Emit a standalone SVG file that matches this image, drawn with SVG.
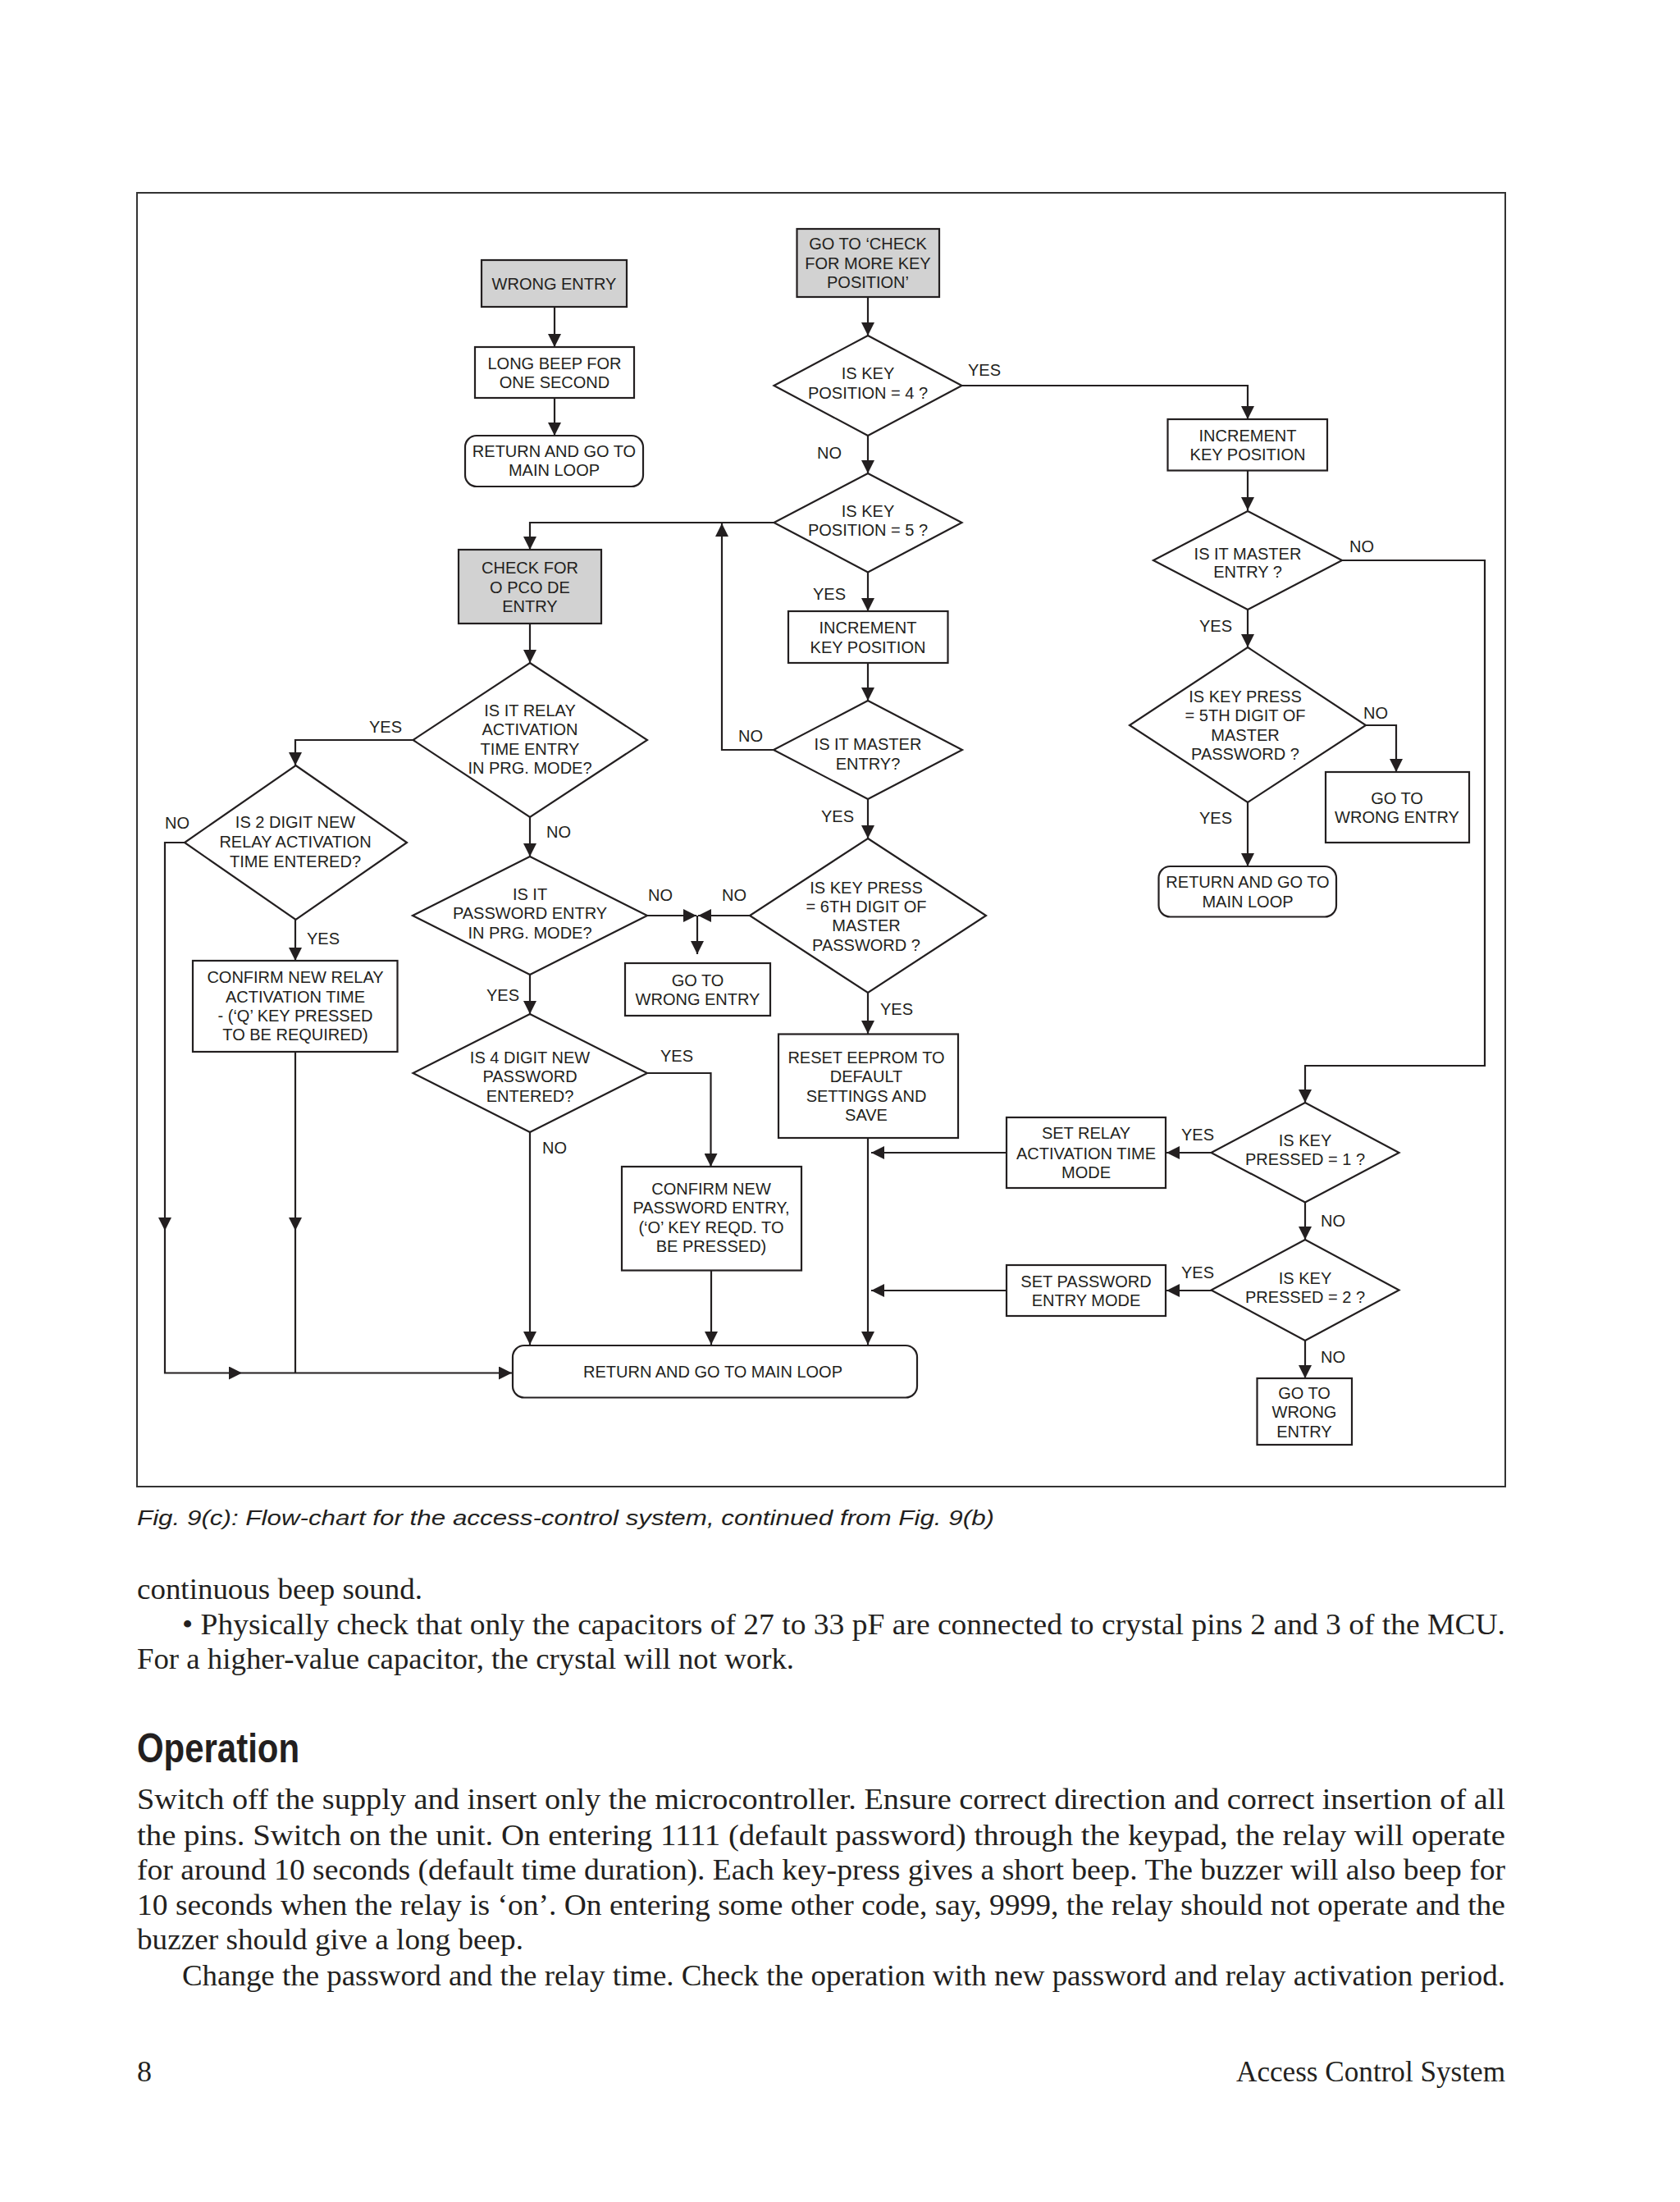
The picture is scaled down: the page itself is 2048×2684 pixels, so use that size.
<svg xmlns="http://www.w3.org/2000/svg" width="2048" height="2684" viewBox="0 0 2048 2684">
<style>
.bx{fill:#fff;stroke:#231f20;stroke-width:2.2}
.gr{fill:#d2d2d2;stroke:#231f20;stroke-width:2.2}
.t{font-family:"Liberation Sans",Arial,sans-serif;font-size:20px;fill:#231f20;text-anchor:middle}
.c{fill:none;stroke:#231f20;stroke-width:2.2}
.a{marker-end:url(#ah)}
.body{font-family:"Liberation Serif","Times New Roman",serif;font-size:36px;fill:#231f20}
</style>
<defs>
<marker id="ah" markerUnits="userSpaceOnUse" viewBox="0 0 16 16" markerWidth="16" markerHeight="16" refX="16" refY="8" orient="auto"><path d="M0,0 L16,8 L0,16 z" fill="#231f20"/></marker>
</defs>
<rect width="2048" height="2684" fill="#fff"/>
<rect x="167" y="235" width="1668" height="1577" fill="none" stroke="#333" stroke-width="2"/>

<g id="connectors">
<path class="c a" d="M676,374 V423"/>
<path class="c a" d="M676,485 V531"/>
<path class="c a" d="M1058,362 V409"/>
<path class="c a" d="M1172.5,470 H1521 V511"/>
<path class="c a" d="M1058,531 V577"/>
<path class="c a" d="M944,637 H646 V670"/>
<path class="c a" d="M1058,697.5 V745"/>
<path class="c a" d="M1058,808 V854"/>
<path class="c a" d="M943,914 H880 V638"/>
<path class="c a" d="M1058,974 V1022"/>
<path class="c a" d="M914,1116 H851"/>
<path class="c a" d="M789,1116 H849"/>
<path class="c a" d="M850,1116 V1163"/>
<path class="c a" d="M1058,1210 V1260"/>
<path class="c a" d="M1058,1387 V1639"/>
<path class="c a" d="M1227,1405 H1062"/>
<path class="c a" d="M1227,1573 H1062"/>
<path class="c a" d="M1477,1405 H1422"/>
<path class="c a" d="M1477,1573 H1422"/>
<path class="c a" d="M1591,1465.5 V1511"/>
<path class="c a" d="M1591,1634 V1680"/>
<path class="c a" d="M1636,683 H1810 V1299 H1591 V1344"/>
<path class="c a" d="M1521,573.5 V622"/>
<path class="c a" d="M1521,743 V789"/>
<path class="c a" d="M1665,884 H1702 V941"/>
<path class="c a" d="M1521,978 V1056"/>
<path class="c a" d="M646,760 V808"/>
<path class="c a" d="M503.5,902 H360 V933"/>
<path class="c a" d="M646,996 V1044"/>
<path class="c a" d="M360,1121 V1171"/>
<path class="c a" d="M225,1027 H201 V1500"/>
<path class="c a" d="M201,1500 V1673.5 H295"/>
<path class="c a" d="M295,1673.5 H624"/>
<path class="c a" d="M360,1282 V1500"/>
<path class="c" d="M360,1500 V1673.5"/>
<path class="c a" d="M646,1188 V1236"/>
<path class="c a" d="M646,1380 V1639"/>
<path class="c a" d="M789,1308 H866.5 V1422"/>
<path class="c a" d="M867,1548.5 V1639"/>
</g>

<g id="labels" class="t">
<text x="1200" y="458">YES</text>
<text x="1011" y="559">NO</text>
<text x="1011" y="731">YES</text>
<text x="915" y="904">NO</text>
<text x="1021" y="1002">YES</text>
<text x="895" y="1098">NO</text>
<text x="805" y="1098">NO</text>
<text x="1093" y="1237">YES</text>
<text x="1460" y="1390">YES</text>
<text x="1460" y="1558">YES</text>
<text x="1625" y="1494.5">NO</text>
<text x="1625" y="1660.5">NO</text>
<text x="1660" y="673">NO</text>
<text x="1482" y="770">YES</text>
<text x="1677" y="876">NO</text>
<text x="1482" y="1004">YES</text>
<text x="470" y="893">YES</text>
<text x="216" y="1010">NO</text>
<text x="394" y="1151">YES</text>
<text x="681" y="1021">NO</text>
<text x="613" y="1220">YES</text>
<text x="825" y="1294">YES</text>
<text x="676" y="1406">NO</text>
</g>

<g id="n_wrong_entry"><rect class="gr" x="587" y="317" width="177" height="57"/><text class="t" x="675.5" y="353">WRONG ENTRY</text></g>
<g id="n_long_beep"><rect class="bx" x="579" y="423" width="194" height="62"/><text class="t"><tspan x="676" y="450">LONG BEEP FOR</tspan><tspan x="676" y="473">ONE SECOND</tspan></text></g>
<g id="n_return_1"><rect class="bx" x="567" y="531" width="217" height="62" rx="14"/><text class="t"><tspan x="675.5" y="557">RETURN AND GO TO</tspan><tspan x="675.5" y="580">MAIN LOOP</tspan></text></g>
<g id="n_check_for"><rect class="gr" x="559" y="670" width="174" height="90"/><text class="t"><tspan x="646" y="699">CHECK FOR</tspan><tspan x="646" y="723">O PCO DE</tspan><tspan x="646" y="746">ENTRY</tspan></text></g>
<g id="n_goto_check"><rect class="gr" x="971.5" y="279" width="173.5" height="83"/><text class="t"><tspan x="1058" y="304">GO TO ‘CHECK</tspan><tspan x="1058" y="328">FOR MORE KEY</tspan><tspan x="1058" y="351">POSITION’</tspan></text></g>
<g id="n_keypos4"><polygon class="bx" points="1058,409 1172.5,470 1058,531 943.5,470"/><text class="t"><tspan x="1058" y="462">IS KEY</tspan><tspan x="1058" y="486">POSITION = 4 ?</tspan></text></g>
<g id="n_keypos5"><polygon class="bx" points="1058,577 1172.5,637 1058,697.5 943.5,637"/><text class="t"><tspan x="1058" y="630">IS KEY</tspan><tspan x="1058" y="653">POSITION = 5 ?</tspan></text></g>
<g id="n_incr_mid"><rect class="bx" x="961" y="745" width="194.5" height="63"/><text class="t"><tspan x="1058" y="772">INCREMENT</tspan><tspan x="1058" y="795.5">KEY POSITION</tspan></text></g>
<g id="n_master_mid"><polygon class="bx" points="1058,854 1173,914 1058,974 943,914"/><text class="t"><tspan x="1058" y="913.5">IS IT MASTER</tspan><tspan x="1058" y="937.5">ENTRY?</tspan></text></g>
<g id="n_6th_digit"><polygon class="bx" points="1058,1022 1202,1116 1058,1210 914,1116"/><text class="t"><tspan x="1056" y="1088.5">IS KEY PRESS</tspan><tspan x="1056" y="1111.5">= 6TH DIGIT OF</tspan><tspan x="1056" y="1135">MASTER</tspan><tspan x="1056" y="1158.5">PASSWORD ?</tspan></text></g>
<g id="n_goto_wrong_mid"><rect class="bx" x="762" y="1174" width="177" height="64"/><text class="t"><tspan x="850.5" y="1202">GO TO</tspan><tspan x="850.5" y="1224.5">WRONG ENTRY</tspan></text></g>
<g id="n_reset_eeprom"><rect class="bx" x="949" y="1260.5" width="219" height="126.5"/><text class="t"><tspan x="1056" y="1295.5">RESET EEPROM TO</tspan><tspan x="1056" y="1319">DEFAULT</tspan><tspan x="1056" y="1342.5">SETTINGS AND</tspan><tspan x="1056" y="1366">SAVE</tspan></text></g>
<g id="n_set_relay"><rect class="bx" x="1227" y="1362" width="194" height="86"/><text class="t"><tspan x="1324" y="1388">SET RELAY</tspan><tspan x="1324" y="1412.5">ACTIVATION TIME</tspan><tspan x="1324" y="1436">MODE</tspan></text></g>
<g id="n_set_password"><rect class="bx" x="1227" y="1542" width="194" height="62"/><text class="t"><tspan x="1324" y="1569">SET PASSWORD</tspan><tspan x="1324" y="1592">ENTRY MODE</tspan></text></g>
<g id="n_pressed1"><polygon class="bx" points="1591,1344 1705.5,1405 1591,1465.5 1476.5,1405"/><text class="t"><tspan x="1591" y="1397">IS KEY</tspan><tspan x="1591" y="1420">PRESSED = 1 ?</tspan></text></g>
<g id="n_pressed2"><polygon class="bx" points="1591,1511 1705.5,1572.5 1591,1634 1476.5,1572.5"/><text class="t"><tspan x="1591" y="1565">IS KEY</tspan><tspan x="1591" y="1588">PRESSED = 2 ?</tspan></text></g>
<g id="n_goto_wrong_br"><rect class="bx" x="1532.5" y="1680" width="115.5" height="81"/><text class="t"><tspan x="1590" y="1704.5">GO TO</tspan><tspan x="1590" y="1728">WRONG</tspan><tspan x="1590" y="1752">ENTRY</tspan></text></g>
<g id="n_incr_right"><rect class="bx" x="1423.5" y="511" width="194.5" height="62.5"/><text class="t"><tspan x="1521" y="537.5">INCREMENT</tspan><tspan x="1521" y="561">KEY POSITION</tspan></text></g>
<g id="n_master_right"><polygon class="bx" points="1521,623 1636,683 1521,743 1406,683"/><text class="t"><tspan x="1521" y="681.5">IS IT MASTER</tspan><tspan x="1521" y="704">ENTRY ?</tspan></text></g>
<g id="n_5th_digit"><polygon class="bx" points="1521,789 1665,884 1521,978 1377,884"/><text class="t"><tspan x="1518" y="855.5">IS KEY PRESS</tspan><tspan x="1518" y="879">= 5TH DIGIT OF</tspan><tspan x="1518" y="902.5">MASTER</tspan><tspan x="1518" y="926">PASSWORD ?</tspan></text></g>
<g id="n_goto_wrong_r"><rect class="bx" x="1616" y="941" width="175" height="86"/><text class="t"><tspan x="1703" y="979.5">GO TO</tspan><tspan x="1703" y="1003">WRONG ENTRY</tspan></text></g>
<g id="n_return_right"><rect class="bx" x="1412.5" y="1056" width="216.5" height="61.5" rx="14"/><text class="t"><tspan x="1521" y="1082">RETURN AND GO TO</tspan><tspan x="1521" y="1105.5">MAIN LOOP</tspan></text></g>
<g id="n_relay_entry"><polygon class="bx" points="646,808 789,902 646,996 503.5,902"/><text class="t"><tspan x="646" y="873">IS IT RELAY</tspan><tspan x="646" y="896">ACTIVATION</tspan><tspan x="646" y="920">TIME ENTRY</tspan><tspan x="646" y="943">IN PRG. MODE?</tspan></text></g>
<g id="n_2digit"><polygon class="bx" points="360.5,933 496,1027 360.5,1121 225,1027"/><text class="t"><tspan x="360" y="1009">IS 2 DIGIT NEW</tspan><tspan x="360" y="1033">RELAY ACTIVATION</tspan><tspan x="360" y="1056.5">TIME ENTERED?</tspan></text></g>
<g id="n_confirm_relay"><rect class="bx" x="235" y="1171" width="249.5" height="111"/><text class="t"><tspan x="360" y="1198">CONFIRM NEW RELAY</tspan><tspan x="360" y="1222">ACTIVATION TIME</tspan><tspan x="360" y="1245">- (‘Q’ KEY PRESSED</tspan><tspan x="360" y="1268">TO BE REQUIRED)</tspan></text></g>
<g id="n_password_entry"><polygon class="bx" points="646,1044 789,1116 646,1188 503,1116"/><text class="t"><tspan x="646" y="1097">IS IT</tspan><tspan x="646" y="1120">PASSWORD ENTRY</tspan><tspan x="646" y="1143.5">IN PRG. MODE?</tspan></text></g>
<g id="n_4digit"><polygon class="bx" points="646,1236 789,1308 646,1380 503.5,1308"/><text class="t"><tspan x="646" y="1295.5">IS 4 DIGIT NEW</tspan><tspan x="646" y="1319">PASSWORD</tspan><tspan x="646" y="1342.5">ENTERED?</tspan></text></g>
<g id="n_confirm_password"><rect class="bx" x="758" y="1422" width="219" height="126.5"/><text class="t"><tspan x="867" y="1455.5">CONFIRM NEW</tspan><tspan x="867" y="1479">PASSWORD ENTRY,</tspan><tspan x="867" y="1503">(‘O’ KEY REQD. TO</tspan><tspan x="867" y="1526">BE PRESSED)</tspan></text></g>
<g id="n_return_bottom"><rect class="bx" x="625" y="1640" width="493" height="63.5" rx="14"/><text class="t" x="869" y="1679">RETURN AND GO TO MAIN LOOP</text></g>

<g id="page_text">
<text x="167" y="1859" font-family="Liberation Sans,Arial,sans-serif" font-style="italic" font-size="26" fill="#231f20" textLength="1045" lengthAdjust="spacingAndGlyphs">Fig. 9(c): Flow-chart for the access-control system, continued from Fig. 9(b)</text>
<text class="body" x="167" y="1949" textLength="348" lengthAdjust="spacingAndGlyphs">continuous beep sound.</text>
<text class="body" x="222" y="1992" textLength="1613" lengthAdjust="spacingAndGlyphs">• Physically check that only the capacitors of 27 to 33 pF are connected to crystal pins 2 and 3 of the MCU.</text>
<text class="body" x="167" y="2034" textLength="801" lengthAdjust="spacingAndGlyphs">For a higher-value capacitor, the crystal will not work.</text>
<text x="167" y="2148" font-family="Liberation Sans,Arial,sans-serif" font-weight="bold" font-size="50" fill="#231f20" textLength="198" lengthAdjust="spacingAndGlyphs">Operation</text>
<text class="body" x="167" y="2205" textLength="1668" lengthAdjust="spacingAndGlyphs">Switch off the supply and insert only the microcontroller. Ensure correct direction and correct insertion of all</text>
<text class="body" x="167" y="2249" textLength="1668" lengthAdjust="spacingAndGlyphs">the pins. Switch on the unit. On entering 1111 (default password) through the keypad, the relay will operate</text>
<text class="body" x="167" y="2291" textLength="1668" lengthAdjust="spacingAndGlyphs">for around 10 seconds (default time duration). Each key-press gives a short beep. The buzzer will also beep for</text>
<text class="body" x="167" y="2334" textLength="1668" lengthAdjust="spacingAndGlyphs">10 seconds when the relay is ‘on’. On entering some other code, say, 9999, the relay should not operate and the</text>
<text class="body" x="167" y="2376" textLength="471" lengthAdjust="spacingAndGlyphs">buzzer should give a long beep.</text>
<text class="body" x="222" y="2420" textLength="1613" lengthAdjust="spacingAndGlyphs">Change the password and the relay time. Check the operation with new password and relay activation period.</text>
<text class="body" x="167" y="2537">8</text>
<text class="body" x="1835" y="2537" text-anchor="end" textLength="328" lengthAdjust="spacingAndGlyphs">Access Control System</text>
</g>
</svg>
